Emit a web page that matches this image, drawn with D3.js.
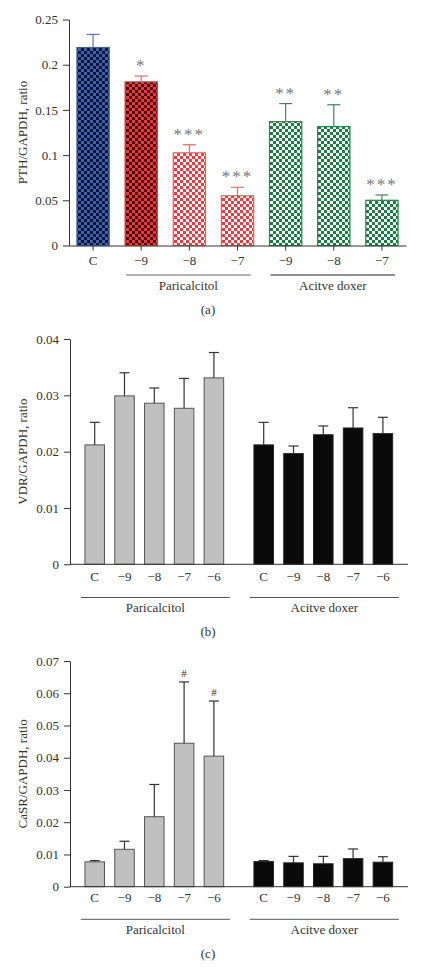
<!DOCTYPE html>
<html>
<head>
<meta charset="utf-8">
<script src="https://cdn.jsdelivr.net/npm/d3@7/dist/d3.min.js"></script>
<style>
  body { margin: 0; background: #fff; }
  text { font-family: "Liberation Serif", "DejaVu Serif", serif; fill: #333; }
</style>
</head>
<body>
<script>
// ---------------- DATA ----------------
// Panel (a): PTH/GAPDH
const categoriesA = ["C", "P-9", "P-8", "P-7", "A-9", "A-8", "A-7"];
const tickLabelsA = ["C", "\u22129", "\u22128", "\u22127", "\u22129", "\u22128", "\u22127"];
const valuesA = [0.219, 0.181, 0.1025, 0.055, 0.137, 0.1315, 0.050];
const errorsA = [0.0145, 0.0065, 0.009, 0.0094, 0.020, 0.0242, 0.0059];
const starsA = ["", "*", "***", "***", "**", "**", "***"];
const groupsA = [
  { name: "Paricalcitol", from: "P-9", to: "P-7" },
  { name: "Acitve doxer", from: "A-9", to: "A-7" }
];
const yTicksA = [0, 0.05, 0.1, 0.15, 0.2, 0.25];
const yTickLabelsA = ["0", "0.05", "0.1", "0.15", "0.2", "0.25"];

// Panels (b) and (c)
const groups = ["Paricalcitol", "Acitve doxer"];
const doses = ["C", "\u22129", "\u22128", "\u22127", "\u22126"];

// Panel (b): VDR/GAPDH
const vdrParicalcitol = [0.0212, 0.0299, 0.0286, 0.0277, 0.0331];
const vdrParicalcitolErr = [0.0040, 0.0041, 0.0027, 0.0053, 0.0045];
const vdrDoxer = [0.0212, 0.01965, 0.0230, 0.0242, 0.0232];
const vdrDoxerErr = [0.0040, 0.00135, 0.00156, 0.0036, 0.0029];
const yTicksB = [0, 0.01, 0.02, 0.03, 0.04];
const yTickLabelsB = ["0", "0.01", "0.02", "0.03", "0.04"];

// Panel (c): CaSR/GAPDH
const casrParicalcitol = [0.0077, 0.0116, 0.0217, 0.0445, 0.0405];
const casrParicalcitolErr = [0.0004, 0.0025, 0.0100, 0.0190, 0.0171];
const casrParicalcitolMarks = ["", "", "", "#", "#"];
const casrDoxer = [0.0078, 0.0074, 0.0071, 0.0087, 0.0076];
const casrDoxerErr = [0.0003, 0.0020, 0.0023, 0.0030, 0.0017];
const casrDoxerMarks = ["", "", "", "", ""];
const yTicksC = [0, 0.01, 0.02, 0.03, 0.04, 0.05, 0.06, 0.07];
const yTickLabelsC = ["0", "0.01", "0.02", "0.03", "0.04", "0.05", "0.06", "0.07"];

// ---------------- STYLES ----------------
const patternStylesA = [
  { id: "pBlue", a: "#3f61ab", b: "#0b1636", stroke: "#3f5fa5", err: "#5a74b4" },
  { id: "pDarkRed", a: "#e23b3b", b: "#4a0606", stroke: "#e23b3b", err: "#e36a6a" },
  { id: "pRed", a: "#ec3c3c", b: "#ffffff", stroke: "#ef5a5a", err: "#ef6b6b" },
  { id: "pRed", a: "#ec3c3c", b: "#ffffff", stroke: "#ef5a5a", err: "#ef6b6b" },
  { id: "pGreen", a: "#1e7c3e", b: "#ffffff", stroke: "#2a8048", err: "#3b8a57" },
  { id: "pGreen", a: "#1e7c3e", b: "#ffffff", stroke: "#2a8048", err: "#3b8a57" },
  { id: "pGreen", a: "#1e7c3e", b: "#ffffff", stroke: "#2a8048", err: "#3b8a57" }
];

const svg = d3.select("body").append("svg").attr("width", 422).attr("height", 969);
const defs = svg.append("defs");
const seen = new Set();
patternStylesA.forEach(s => {
  if (seen.has(s.id)) return;
  seen.add(s.id);
  const p = defs.append("pattern").attr("id", s.id).attr("patternUnits", "userSpaceOnUse")
    .attr("width", 6).attr("height", 6);
  p.append("rect").attr("width", 6).attr("height", 6).attr("fill", s.b);
  p.append("rect").attr("width", 3).attr("height", 3).attr("fill", s.a);
  p.append("rect").attr("x", 3).attr("y", 3).attr("width", 3).attr("height", 3).attr("fill", s.a);
});

const axisColor = "#333";

function styleAxis(g) {
  g.selectAll("path, line").attr("stroke", axisColor).attr("stroke-width", 1);
  g.selectAll("text").attr("font-family", "Liberation Serif, serif").attr("font-size", 13).attr("fill", "#333");
}

function yLabel(text, yScale) {
  const r = yScale.range();
  svg.append("text")
    .attr("transform", `translate(27,${(r[0] + r[1]) / 2}) rotate(-90)`)
    .attr("text-anchor", "middle").attr("font-size", 13).text(text);
}

// ---------------- PANEL (a) ----------------
(function () {
  const left = 69, right = 406, bottom = 245.5, top = 19.5;
  const x = d3.scaleBand().domain(categoriesA).range([left, right]).paddingInner(0.33).paddingOuter(0.165);
  const y = d3.scaleLinear().domain([0, 0.25]).range([bottom, top]);
  const g = svg.append("g");

  // bars
  g.selectAll("rect.bar").data(categoriesA).join("rect")
    .attr("x", d => x(d)).attr("width", x.bandwidth())
    .attr("y", (d, i) => y(valuesA[i])).attr("height", (d, i) => y(0) - y(valuesA[i]))
    .attr("fill", (d, i) => `url(#${patternStylesA[i].id})`)
    .attr("stroke", (d, i) => patternStylesA[i].stroke).attr("stroke-width", 1.2);

  // error bars
  categoriesA.forEach((c, i) => {
    const cx = x(c) + x.bandwidth() / 2;
    const col = patternStylesA[i].err;
    g.append("line").attr("x1", cx).attr("x2", cx)
      .attr("y1", y(valuesA[i])).attr("y2", y(valuesA[i] + errorsA[i]))
      .attr("stroke", col).attr("stroke-width", 1.2);
    g.append("line").attr("x1", cx - 6.5).attr("x2", cx + 6.5)
      .attr("y1", y(valuesA[i] + errorsA[i])).attr("y2", y(valuesA[i] + errorsA[i]))
      .attr("stroke", col).attr("stroke-width", 1.2);
    if (starsA[i]) {
      g.append("text").attr("x", cx).attr("y", y(valuesA[i] + errorsA[i]) - 5)
        .attr("text-anchor", "middle").attr("font-size", 17).attr("letter-spacing", 2)
        .attr("fill", "#777").style("fill", "#777").text(starsA[i].split("").join(""));
    }
  });

  // axes
  const ya = g.append("g").attr("transform", `translate(${left},0)`)
    .call(d3.axisLeft(y).tickValues(yTicksA).tickFormat((d, i) => yTickLabelsA[i]).tickSize(6).tickSizeOuter(0).tickPadding(5));
  styleAxis(ya);
  const xa = g.append("g").attr("transform", `translate(0,${bottom})`)
    .call(d3.axisBottom(x).tickFormat((d, i) => tickLabelsA[i]).tickSize(5).tickSizeOuter(0).tickPadding(5));
  styleAxis(xa);

  // group lines and labels
  groupsA.forEach((gr, k) => {
    const x1 = x(gr.from) + 1, x2 = x(gr.to) + x.bandwidth() - 3;
    g.append("line").attr("x1", x1).attr("x2", x2).attr("y1", 275).attr("y2", 275)
      .attr("stroke", k === 0 ? "#666" : "#222").attr("stroke-width", 1);
    g.append("text").attr("x", (x1 + x2) / 2).attr("y", 290).attr("text-anchor", "middle")
      .attr("font-size", 13).text(gr.name);
  });
  g.append("text").attr("x", 208).attr("y", 313.5).attr("text-anchor", "middle").attr("font-size", 13).text("(a)");
  yLabel("PTH/GAPDH, ratio", y);
})();

// ---------------- PANELS (b) & (c) ----------------
function groupedPanel(opts) {
  const left = 70, right = 408;
  const { bottom, top, domainMax, yTicks, yTickLabels, series, label, letter, labelY, groupLineY, groupLabelY, letterY } = opts;
  const outer = d3.scaleBand().domain(groups).range([79.8, 397.8]).paddingInner(0.1183).paddingOuter(0);
  const inner = d3.scaleBand().domain(doses).range([0, outer.bandwidth()]).paddingInner(0.345).paddingOuter(0.1725);
  const y = d3.scaleLinear().domain([0, domainMax]).range([bottom, top]);
  const g = svg.append("g");
  const fills = ["#c0c0c0", "#0a0a0a"];
  const strokes = ["#555", "#222"];

  series.forEach((s, k) => {
    const gg = g.append("g").attr("transform", `translate(${outer(groups[k])},0)`);
    gg.selectAll("rect").data(doses).join("rect")
      .attr("x", d => inner(d)).attr("width", inner.bandwidth())
      .attr("y", (d, i) => y(s.values[i])).attr("height", (d, i) => y(0) - y(s.values[i]))
      .attr("fill", fills[k]).attr("stroke", strokes[k]).attr("stroke-width", 1);
    doses.forEach((d, i) => {
      const cx = inner(d) + inner.bandwidth() / 2;
      const yt = y(s.values[i] + s.errors[i]);
      gg.append("line").attr("x1", cx).attr("x2", cx).attr("y1", y(s.values[i])).attr("y2", yt)
        .attr("stroke", "#333").attr("stroke-width", 1.2);
      gg.append("line").attr("x1", cx - 5).attr("x2", cx + 5).attr("y1", yt).attr("y2", yt)
        .attr("stroke", "#333").attr("stroke-width", 1.2);
      if (s.marks && s.marks[i]) {
        gg.append("text").attr("x", cx).attr("y", yt - 5).attr("text-anchor", "middle")
          .attr("font-size", 11).text(s.marks[i]);
      }
      gg.append("text").attr("x", cx).attr("y", labelY).attr("text-anchor", "middle")
        .attr("font-size", 13).text(d);
    });
    const x1 = outer(groups[k]) + 1, x2 = outer(groups[k]) + outer.bandwidth() + 1;
    g.append("line").attr("x1", x1).attr("x2", x2).attr("y1", groupLineY).attr("y2", groupLineY)
      .attr("stroke", "#555").attr("stroke-width", 1);
    g.append("text").attr("x", (x1 + x2) / 2).attr("y", groupLabelY).attr("text-anchor", "middle")
      .attr("font-size", 13).text(groups[k]);
  });

  const ya = g.append("g").attr("transform", `translate(${left},0)`)
    .call(d3.axisLeft(y).tickValues(yTicks).tickFormat((d, i) => yTickLabels[i]).tickSize(6).tickSizeOuter(0).tickPadding(5));
  styleAxis(ya);
  g.append("line").attr("x1", left).attr("x2", right).attr("y1", bottom).attr("y2", bottom)
    .attr("stroke", axisColor).attr("stroke-width", 1);
  g.append("text").attr("x", 208).attr("y", letterY).attr("text-anchor", "middle").attr("font-size", 13).text(letter);
  yLabel(label, y);
}

groupedPanel({
  bottom: 564.3, top: 339, domainMax: 0.04, yTicks: yTicksB, yTickLabels: yTickLabelsB,
  series: [
    { values: vdrParicalcitol, errors: vdrParicalcitolErr },
    { values: vdrDoxer, errors: vdrDoxerErr }
  ],
  label: "VDR/GAPDH, ratio", letter: "(b)", labelY: 580.5, groupLineY: 597.5, groupLabelY: 612, letterY: 636
});

groupedPanel({
  bottom: 886.7, top: 661, domainMax: 0.07, yTicks: yTicksC, yTickLabels: yTickLabelsC,
  series: [
    { values: casrParicalcitol, errors: casrParicalcitolErr, marks: casrParicalcitolMarks },
    { values: casrDoxer, errors: casrDoxerErr, marks: casrDoxerMarks }
  ],
  label: "CaSR/GAPDH, ratio", letter: "(c)", labelY: 902, groupLineY: 919.3, groupLabelY: 934, letterY: 957.5
});
</script>
</body>
</html>
